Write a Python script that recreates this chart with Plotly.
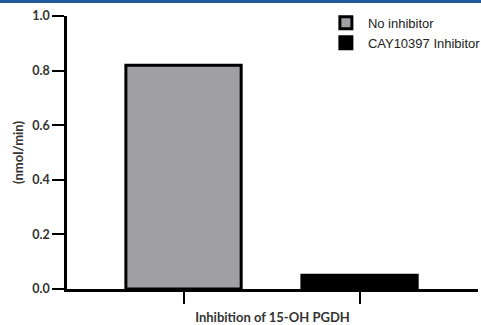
import plotly.graph_objs as go

# data
groups = ['No inhibitor', 'CAY10397 Inhibitor']
rates = [0.82, 0.05]
positions = [0, 1]
fills = ['#a0a0a4', '#000000']
y_ticks = [0.0, 0.2, 0.4, 0.6, 0.8, 1.0]
y_labels = ['0.0', '0.2', '0.4', '0.6', '0.8', '1.0']

fig = go.Figure()

for name, x, y, c in zip(groups, positions, rates, fills):
    fig.add_trace(go.Bar(
        x=[x], y=[y], name=name, width=0.655,
        marker=dict(color=c, line=dict(color='#000000', width=3))))

fig.update_layout(
    width=481, height=325,
    margin=dict(l=67, r=3, t=16, b=36, autoexpand=False),
    paper_bgcolor='white', plot_bgcolor='white',
    showlegend=True,
    legend=dict(x=0.625, y=1.03, xanchor='left', yanchor='top',
                bgcolor='rgba(0,0,0,0)', itemwidth=34,
                font=dict(family='Liberation Sans', size=13, color='#222'),
                tracegroupgap=2),
    barmode='overlay',
)

fig.update_xaxes(
    range=[-0.662, 1.673], tickvals=positions, ticktext=['', ''],
    ticks='outside', ticklen=12, tickwidth=2, tickcolor='#000',
    showline=True, linecolor='#000', linewidth=2.5, showgrid=False, zeroline=False,
    automargin=False,
    title=dict(text='<b>Inhibition of 15-OH PGDH</b>', standoff=8,
               font=dict(family='Lato', size=13, color='#333')))

fig.update_yaxes(
    range=[0, 1], tickvals=y_ticks, ticktext=['<b>%s</b>' % t for t in y_labels],
    ticks='outside', ticklen=12, tickwidth=2, tickcolor='#000',
    showline=True, linecolor='#000', linewidth=2.5, showgrid=False, zeroline=False,
    automargin=False,
    tickfont=dict(family='Lato', size=12.5, color='#333'),
    title=dict(text='<b>(nmol/min)</b>', standoff=6,
               font=dict(family='Lato', size=13, color='#333')))

# thin blue rule at the very top of the image
fig.add_shape(type='line', xref='paper', yref='paper',
              x0=-0.2, x1=1.1, y0=1 + 14.5/273, y1=1 + 14.5/273,
              line=dict(color='#1f5a9c', width=3))

# drop the browser's default page margin so the figure sits at 0,0
fig.write_html("out.html", config={'displayModeBar': False},
               post_script="document.body.style.margin='0';")
